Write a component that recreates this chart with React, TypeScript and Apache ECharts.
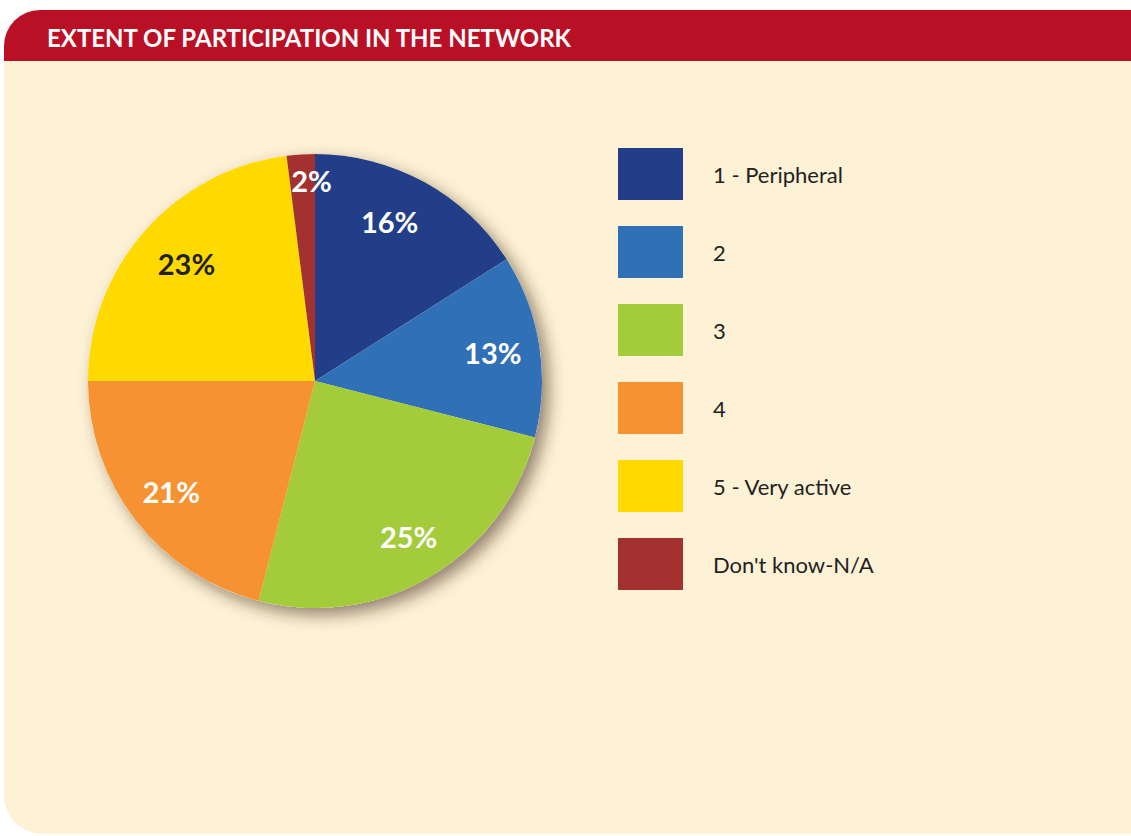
import React, { useEffect, useRef } from "react";
import * as echarts from "echarts";

const title = "EXTENT OF PARTICIPATION IN THE NETWORK";
const categories = ["1 - Peripheral", "2", "3", "4", "5 - Very active", "Don't know-N/A"];
const values = [16, 13, 25, 21, 23, 2];
const colors = ["#233E88", "#3070B7", "#A4CB3A", "#F69232", "#FFDA00", "#A2312F"];
const labelColors = ["#FFFFFF", "#FFFFFF", "#FFFFFF", "#FFFFFF", "#231F20", "#FFFFFF"];
const labelOffsets = [[-13, 0], [-2, 0], [1, -1], [0, -1], [8, 3], [8, -19]];

const W = 1131;
const H = 836;
const CX = 315;
const CY = 381;
const R = 227;

export default function App() {
  const ref = useRef<HTMLDivElement>(null);
  useEffect(() => {
    if (!ref.current) return;
    const chart = echarts.init(ref.current, null, { renderer: "svg", width: W, height: H });
    const font = "Lato, 'Open Sans', sans-serif";
    chart.setOption({
      animation: false,
      backgroundColor: "#FFFFFF",
      graphic: [
        {
          type: "rect",
          z: -10,
          shape: { x: 4, y: 10, width: 1170, height: 824, r: 38 },
          style: { fill: "#FDF1D6" },
        },
        {
          type: "rect",
          z: -9,
          shape: { x: 4, y: 10, width: 1170, height: 51, r: [36, 36, 0, 0] },
          style: { fill: "#BA1026" },
        },
        {
          type: "text",
          z: 10,
          x: 47,
          y: 37,
          style: {
            text: title,
            fill: "#FFFFFF",
            font: `bold 24px ${font}`,
            verticalAlign: "middle",
            align: "left",
          },
        },
      ],
      legend: {
        orient: "vertical",
        left: 618,
        top: 148,
        padding: 0,
        itemWidth: 65,
        itemHeight: 52,
        itemGap: 26,
        icon: "rect",
        selectedMode: false,
        textStyle: {
          fontFamily: font,
          fontSize: 22,
          color: "#231F20",
          padding: [0, 0, 0, 25],
        },
        data: categories.map((c, i) => ({ name: c, itemStyle: { color: colors[i] } })),
      },
      series: [
        {
          type: "pie",
          name: "shadow",
          center: [CX, CY],
          radius: [0, R],
          silent: true,
          z: 1,
          label: { show: false },
          labelLine: { show: false },
          data: [
            {
              name: "__shadow",
              value: 1,
              itemStyle: {
                color: "#FDF1D6",
                shadowBlur: 16,
                shadowOffsetX: 7,
                shadowOffsetY: 7,
                shadowColor: "rgba(60,40,20,0.55)",
              },
            },
          ],
        },
        {
          type: "pie",
          name: "main",
          center: [CX, CY],
          radius: [0, R],
          startAngle: 90,
          clockwise: true,
          silent: true,
          z: 2,
          label: { show: false },
          labelLine: { show: false },
          itemStyle: { borderWidth: 0 },
          data: categories.map((c, i) => ({
            name: c,
            value: values[i],
            itemStyle: { color: colors[i] },
          })),
        },
        {
          type: "pie",
          name: "labels",
          center: [CX, CY],
          radius: [131, R],
          startAngle: 90,
          clockwise: true,
          silent: true,
          z: 3,
          labelLine: { show: false },
          data: categories.map((c, i) => ({
            name: c,
            value: values[i],
            itemStyle: { color: "rgba(0,0,0,0)" },
            label: {
              show: true,
              position: "inside",
              formatter: `${values[i]}%`,
              color: labelColors[i],
              fontFamily: font,
              fontWeight: "bold",
              fontSize: 29,
              offset: labelOffsets[i],
            },
          })),
        },
      ],
    });
    return () => chart.dispose();
  }, []);
  return (
    <div
      ref={ref}
      style={{ position: "absolute", left: 0, top: 0, width: W, height: H }}
    />
  );
}
